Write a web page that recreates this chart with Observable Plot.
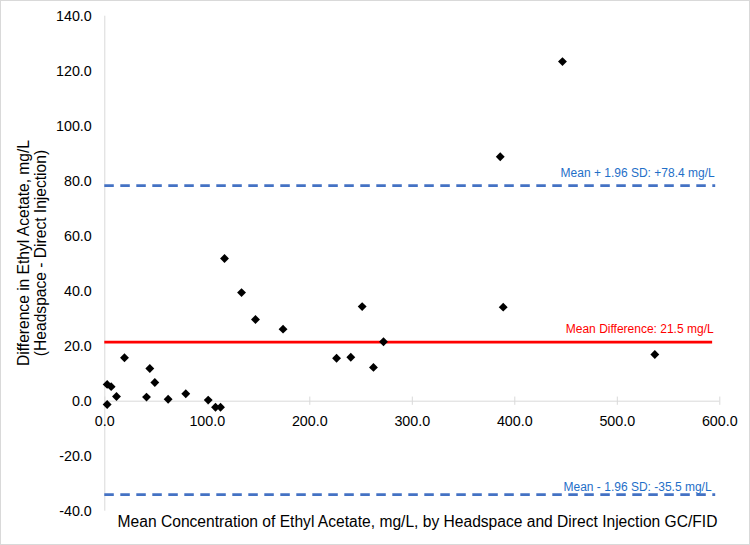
<!DOCTYPE html>
<html><head><meta charset="utf-8">
<script src="https://cdn.jsdelivr.net/npm/d3@7"></script>
<script src="https://cdn.jsdelivr.net/npm/@observablehq/plot@0.6"></script>
<style>
body{margin:0;background:#fff}
#chart svg{outline:1px solid #d9d9d9;outline-offset:-1px;display:block}
</style>
</head><body><div id="chart"></div>
<script>
// Bland–Altman data: mean concentration (x) vs difference (y)
const meanConc = [2.3, 2.3, 6.2, 11.4, 19.2, 40.7, 43.9, 48.8, 61.8, 79.0, 100.9, 108.0, 112.9,
  116.8, 133.4, 147.0, 173.9, 226.1, 240.0, 251.1, 262.1, 271.9, 385.8, 388.7, 446.5, 536.6];
const difference = [-1.2, 6.1, 5.3, 1.7, 15.8, 1.5, 11.9, 6.8, 0.7, 2.7, 0.4, -2.2, -2.2,
  51.9, 39.5, 29.7, 26.2, 15.6, 16.0, 34.4, 12.3, 21.6, 88.9, 34.2, 123.5, 17.0];
const xTicks = [0, 100, 200, 300, 400, 500, 600];
const yTicks = [-40, -20, 0, 20, 40, 60, 80, 100, 120, 140];
const meanDiff = 21.5;
const upperLimit = 78.4;
const lowerLimit = -34.0;
const meanLabel = "Mean Difference: 21.5 mg/L";
const upperLabel = "Mean + 1.96 SD: +78.4 mg/L";
const lowerLabel = "Mean - 1.96 SD: -35.5 mg/L";
const xTitle = "Mean Concentration of Ethyl Acetate, mg/L, by Headspace and Direct Injection GC/FID";
const yTitle = "Difference in Ethyl Acetate, mg/L\n(Headspace - Direct Injection)";

const points = meanConc.map((x, i) => ({x, y: difference[i]}));
const fmt = d => d.toFixed(1);
const axisGray = "#d9d9d9";
const blue = "#4472C4";
const labelBlue = "#1f6fc8";

const chart = Plot.plot({
  width: 750,
  height: 545,
  marginLeft: 104.3,
  marginRight: 30.7,
  marginTop: 15.7,
  marginBottom: 34.3,
  style: {fontFamily: "'Liberation Sans', Arial, Helvetica, sans-serif", background: "#fff", color: "#000"},
  x: {domain: [0, 600], axis: null},
  y: {domain: [-40, 140], axis: null},
  marks: [
    Plot.ruleX([0], {y1: -40, y2: 140, stroke: axisGray, strokeWidth: 1}),
    Plot.ruleY([0], {x1: 0, x2: 600, stroke: axisGray, strokeWidth: 1}),
    Plot.ruleX(xTicks, {x: d => d, y1: -1.5, y2: 1.5, stroke: axisGray, strokeWidth: 1}),
    Plot.axisY(yTicks, {tickSize: 0, tickPadding: 13, tickFormat: fmt, fontSize: 14.3, fill: "#000", label: null}),
    Plot.text(xTicks, {x: d => d, y: 0, dy: 20, text: fmt, fontSize: 14.3, fill: "#000"}),
    Plot.ruleY([upperLimit], {x1: 0, x2: 596, stroke: blue, strokeWidth: 2.75, strokeDasharray: "9.5,6.5"}),
    Plot.ruleY([lowerLimit], {x1: 0, x2: 596, stroke: blue, strokeWidth: 2.75, strokeDasharray: "9.5,6.5"}),
    Plot.ruleY([meanDiff], {x1: 0, x2: 593, stroke: "#ff0000", strokeWidth: 2.6}),
    Plot.dot(points, {x: "x", y: "y", symbol: "diamond2", r: 4, fill: "#000", stroke: null}),
    Plot.text([upperLabel], {x: 595, y: upperLimit, dy: -12.5, text: d => d, textAnchor: "end", fontSize: 12, fill: labelBlue}),
    Plot.text([meanLabel], {x: 594, y: meanDiff, dy: -12.5, text: d => d, textAnchor: "end", fontSize: 12, fill: "#ff0000"}),
    Plot.text([lowerLabel], {x: 592, y: lowerLimit, dy: -7.5, text: d => d, textAnchor: "end", fontSize: 12, fill: labelBlue}),
    Plot.text([xTitle], {frameAnchor: "bottom", dx: 5.2, dy: 11, lineAnchor: "middle", text: d => d, fontSize: 15.6, fill: "#000"}),
    Plot.text([yTitle], {frameAnchor: "left", dx: -72.5, dy: -10.7, rotate: -90, textAnchor: "middle", lineAnchor: "middle", lineHeight: 1.05, text: d => d, fontSize: 15.6, fill: "#000"})
  ]
});
document.getElementById("chart").appendChild(chart);
</script>
</body></html>
